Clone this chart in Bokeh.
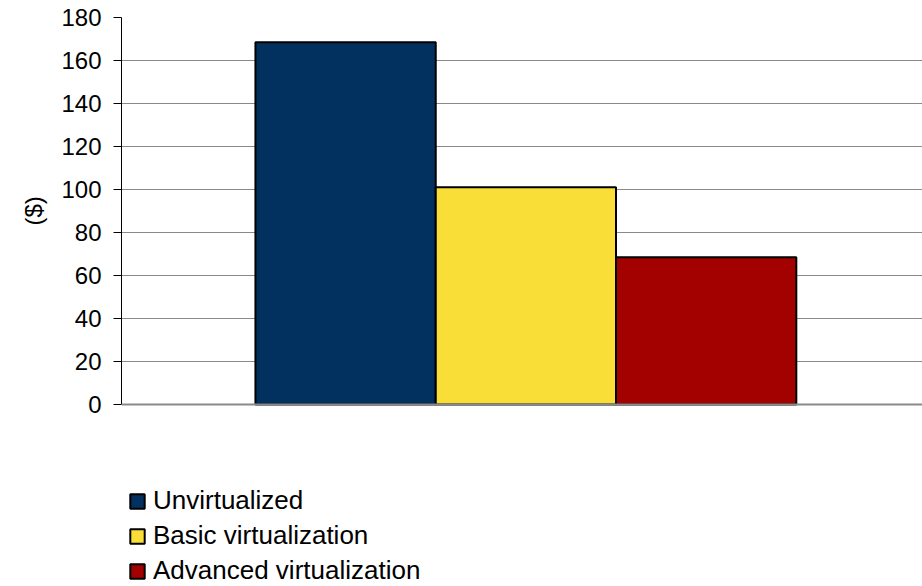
from bokeh.plotting import figure
from bokeh.models import ColumnDataSource, Range1d, Legend, LegendItem, FixedTicker, Span, Title
from bokeh.embed import file_html
from bokeh.resources import INLINE

categories = ["Unvirtualized", "Basic virtualization", "Advanced virtualization"]
values = [168.5, 101, 68.5]
colors = ["#02305f", "#f8de36", "#a30000"]
yticks = [0, 20, 40, 60, 80, 100, 120, 140, 160, 180]

FONT = "Liberation Sans"

# frame extends below zero so the legend can sit under the bars inside the canvas
p = figure(width=922, height=586, output_backend="svg", toolbar_location=None,
           x_range=Range1d(-1.243, 3.2), y_range=Range1d(-84.7, 180),
           min_border_left=121, min_border_top=17, min_border_right=0, min_border_bottom=0)
p.outline_line_color = None
p.background_fill_color = "white"

items = []
for i, (c, v, col) in enumerate(zip(categories, values, colors)):
    src = ColumnDataSource(dict(x=[i], top=[v]))
    r = p.vbar(x="x", top="top", width=1.0, bottom=0, source=src,
               fill_color=col, line_color="black", line_width=2)
    items.append(LegendItem(label=c, renderers=[r]))

p.add_layout(Span(location=0, dimension="width", line_color="#8a8a8a", line_width=2))

p.xaxis.visible = False
p.xgrid.visible = False
p.ygrid.grid_line_color = "#8a8a8a"
p.ygrid.grid_line_width = 1
p.ygrid.ticker = FixedTicker(ticks=yticks)

ax = p.yaxis[0]
ax.bounds = (0, 180)
ax.ticker = FixedTicker(ticks=yticks)
ax.axis_line_color = "black"
ax.axis_line_width = 1
ax.major_tick_line_color = "black"
ax.major_tick_out = 8
ax.major_tick_in = 0
ax.minor_tick_line_color = None
ax.major_label_text_font = FONT
ax.major_label_text_font_size = "24px"
ax.major_label_text_color = "black"
ax.major_label_standoff = 12

ylab = Title(text="($)", align="left", offset=361, text_font=FONT,
             text_font_size="24px", text_font_style="normal", text_color="black",
             standoff=20, vertical_align="top")
p.add_layout(ylab, "left")

legend = Legend(items=items, location=(7, 0), orientation="vertical",
                glyph_width=18, glyph_height=18, label_standoff=7,
                label_text_font=FONT, label_text_font_size="26px",
                label_text_color="black",
                label_height=18, spacing=4, padding=0, margin=0,
                border_line_color=None, background_fill_alpha=0)
p.add_layout(legend, "center")

open("out.html", "w").write(file_html(p, INLINE))
